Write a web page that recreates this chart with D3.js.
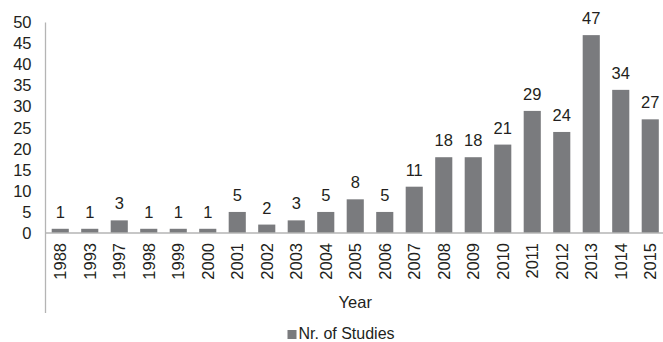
<!DOCTYPE html>
<html>
<head>
<meta charset="utf-8">
<script src="https://cdn.jsdelivr.net/npm/d3@7/dist/d3.min.js"></script>
<style>
  html, body { margin: 0; padding: 0; background: #fff; }
  svg { display: block; font-family: "Liberation Sans", Arial, sans-serif; }
</style>
</head>
<body>
<script>
// Number of studies published per year
const years = ["1988","1993","1997","1998","1999","2000","2001","2002","2003","2004","2005","2006","2007","2008","2009","2010","2011","2012","2013","1014","2015"];
const studies = [1,1,3,1,1,1,5,2,3,5,8,5,11,18,18,21,29,24,47,34,27];
const yTicks = [0,5,10,15,20,25,30,35,40,45,50];
const seriesName = "Nr. of Studies";
const axisTitle = "Year";

const W = 663, H = 342;
const plotLeft = 45.5, plotRight = 665, plotTop = 22.5, plotBase = 233;
const barColor = "#7a7b7e", textColor = "#231f20", lineColor = "#b4b4b4";
const fs = "16.5px";

const svg = d3.select("body").append("svg").attr("width", W).attr("height", H);

const x = d3.scaleBand().domain(years).range([plotLeft, plotRight]).paddingInner(0.42).paddingOuter(0.21);
const y = d3.scaleLinear().domain([0, 50]).range([plotBase, plotTop]);

// value axis: labels only
const yAxis = svg.append("g").attr("transform", `translate(${plotLeft},0)`)
  .call(d3.axisLeft(y).tickValues(yTicks).tickSize(0).tickPadding(14));
yAxis.select(".domain").remove();
yAxis.selectAll("text").attr("fill", textColor).style("font-size", fs)
  .style("font-family", "'Liberation Sans', Arial, sans-serif");

// bars
svg.append("g").selectAll("rect").data(studies).join("rect")
  .attr("x", (d, i) => x(years[i]))
  .attr("y", d => y(d))
  .attr("width", x.bandwidth())
  .attr("height", d => plotBase - y(d))
  .attr("fill", barColor);

// value labels
svg.append("g").selectAll("text").data(studies).join("text")
  .attr("x", (d, i) => x(years[i]) + x.bandwidth() / 2)
  .attr("y", d => y(d) - 11)
  .attr("text-anchor", "middle")
  .attr("fill", textColor).style("font-size", fs)
  .text(d => d);

// axis lines
svg.append("line").attr("x1", plotLeft).attr("x2", plotLeft).attr("y1", plotTop).attr("y2", 313)
  .attr("stroke", lineColor).attr("stroke-width", 1.3);
svg.append("line").attr("x1", plotLeft).attr("x2", W).attr("y1", plotBase).attr("y2", plotBase)
  .attr("stroke", lineColor).attr("stroke-width", 1.3);

// category labels, rotated
svg.append("g").selectAll("text").data(years).join("text")
  .attr("transform", d => `translate(${x(d) + x.bandwidth() / 2 + 6},243) rotate(-90)`)
  .attr("text-anchor", "end")
  .attr("fill", textColor).style("font-size", fs)
  .text(d => d);

// axis title
svg.append("text").attr("x", (plotLeft + plotRight) / 2).attr("y", 308)
  .attr("text-anchor", "middle").attr("fill", textColor).style("font-size", fs)
  .text(axisTitle);

// legend
svg.append("rect").attr("x", 287.5).attr("y", 330).attr("width", 9).attr("height", 9).attr("fill", barColor);
svg.append("text").attr("x", 298.5).attr("y", 339).attr("fill", textColor).style("font-size", "16px")
  .text(seriesName);
</script>
</body>
</html>
